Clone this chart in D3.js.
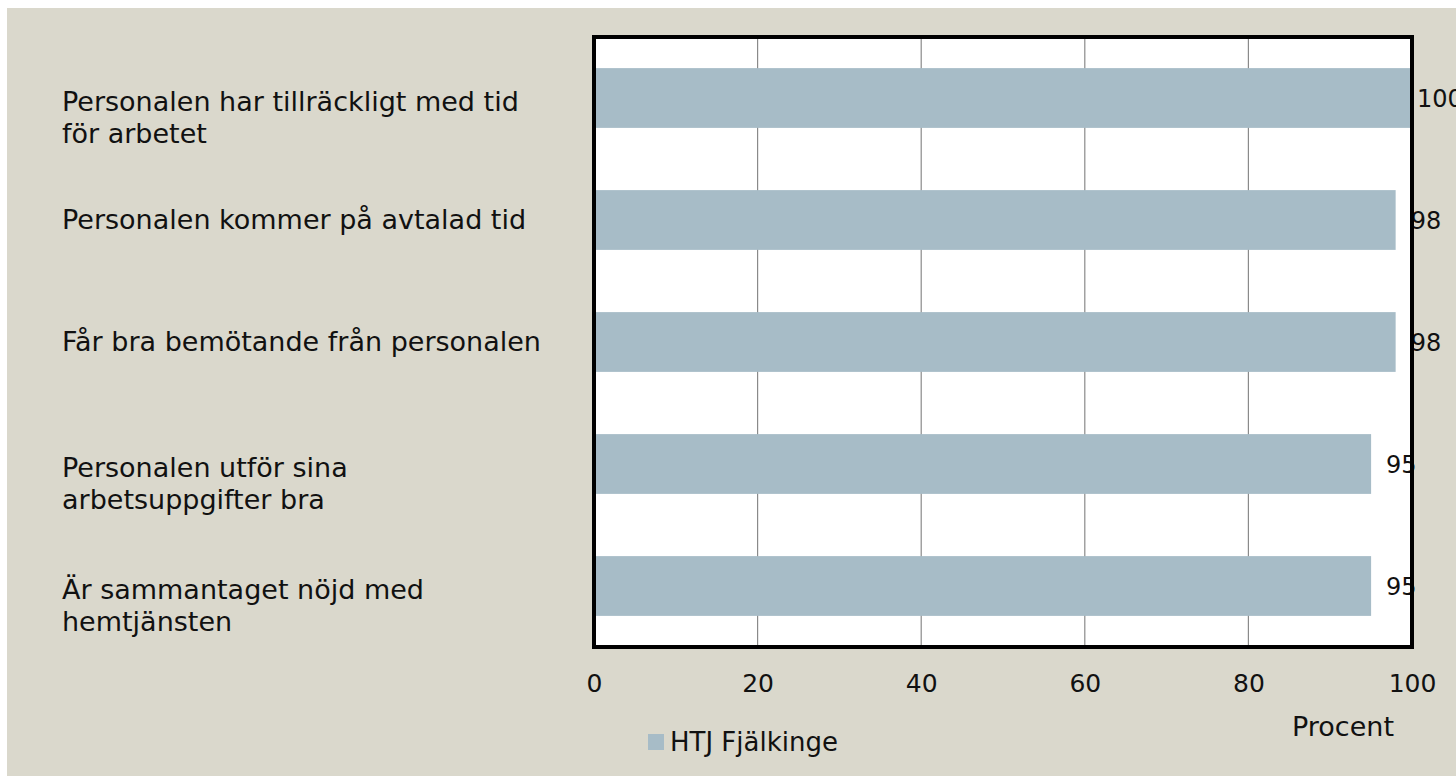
<!DOCTYPE html>
<html lang="sv">
<head>
    <meta charset="utf-8">
    <title>HTJ Fjälkinge</title>
    <script type="text/javascript" src="https://d3js.org/d3.v7.min.js"></script>
    <style>
        body { margin: 0; background: #ffffff; }
        svg { display: block; font-family: "DejaVu Sans", sans-serif; }
        .x.axis .domain { display: none; }
    </style>
</head>
<body>
    <div id="viz"></div>

    <script type="text/javascript">
        // data, top to bottom as in the chart
        const categories = [
            "Personalen har tillräckligt med tid\nför arbetet",
            "Personalen kommer på avtalad tid",
            "Får bra bemötande från personalen",
            "Personalen utför sina\narbetsuppgifter bra",
            "Är sammantaget nöjd med\nhemtjänsten"
        ];
        const values = [100, 98, 98, 95, 95];
        const tickValues = [0, 20, 40, 60, 80, 100];
        const seriesName = "HTJ Fjälkinge";
        const axisTitle = "Procent";

        const width = 1456;
        const height = 778;
        const plot = {left: 594, right: 1412, top: 37, bottom: 647};
        const barColor = "#a7bcc7";
        const bgColor = "#dad8cc";

        const svg = d3.select("#viz")
            .append("svg")
            .attr("width", width)
            .attr("height", height);

        // beige chart area
        svg.append("rect")
            .attr("x", 7).attr("y", 8)
            .attr("width", width - 7).attr("height", height - 10)
            .attr("fill", bgColor);

        const xScale = d3.scaleLinear()
            .domain([0, 100])
            .range([plot.left, plot.right]);

        const yScale = d3.scaleBand()
            .domain(categories)
            .range([plot.top, plot.bottom])
            .paddingInner(0.51)
            .paddingOuter(0.255);

        // white plot area
        svg.append("rect")
            .attr("x", plot.left).attr("y", plot.top)
            .attr("width", plot.right - plot.left)
            .attr("height", plot.bottom - plot.top)
            .attr("fill", "#ffffff");

        // vertical gridlines
        svg.append("g")
            .selectAll("line")
            .data(tickValues.slice(1, -1))
            .enter()
            .append("line")
                .attr("x1", d => xScale(d)).attr("x2", d => xScale(d))
                .attr("y1", plot.top).attr("y2", plot.bottom)
                .attr("stroke", "#8a8a8a")
                .attr("stroke-width", 1.2);

        // bars
        svg.append("g")
            .attr("class", "rect-bars")
            .selectAll("rect")
            .data(values)
            .enter()
            .append("rect")
                .attr("x", xScale(0))
                .attr("y", (d, i) => yScale(categories[i]))
                .attr("width", d => xScale(d) - xScale(0))
                .attr("height", yScale.bandwidth())
                .attr("fill", barColor);

        // value labels (behind the frame, like the original)
        svg.append("g")
            .selectAll("text")
            .data(values)
            .enter()
            .append("text")
                .attr("x", d => Math.min(xScale(d) + 15, xScale(100) + 5))
                .attr("y", (d, i) => yScale(categories[i]) + yScale.bandwidth() / 2 + 9)
                .attr("font-size", 24)
                .attr("fill", "#111")
                .text(d => d);

        // black frame
        svg.append("rect")
            .attr("x", plot.left).attr("y", plot.top)
            .attr("width", plot.right - plot.left)
            .attr("height", plot.bottom - plot.top)
            .attr("fill", "none")
            .attr("stroke", "#000")
            .attr("stroke-width", 4);

        // x axis
        const xAxis = d3.axisBottom(xScale)
            .tickValues(tickValues)
            .tickSize(0)
            .tickPadding(27);
        svg.append("g")
            .attr("class", "x axis")
            .attr("transform", `translate(0,${plot.bottom})`)
            .call(xAxis)
            .attr("font-family", "DejaVu Sans, sans-serif")
            .attr("font-size", 25)
            .selectAll("text")
                .attr("fill", "#111");

        // category labels, left aligned
        const labels = svg.append("g")
            .selectAll("text")
            .data(categories)
            .enter()
            .append("text")
                .attr("x", 62)
                .attr("y", d => yScale(d) + yScale.bandwidth() / 2)
                .attr("font-size", 27)
                .attr("fill", "#111");
        labels.each(function(d) {
            const lines = d.split("\n");
            d3.select(this).selectAll("tspan")
                .data(lines)
                .enter()
                .append("tspan")
                    .attr("x", 62)
                    .attr("dy", (l, i) => i === 0 ? (lines.length > 1 ? 13 : 9) : 32)
                    .text(l => l);
        });

        // axis title
        svg.append("text")
            .attr("x", 1292)
            .attr("y", 736)
            .attr("font-size", 27)
            .attr("fill", "#111")
            .text(axisTitle);

        // legend
        svg.append("rect")
            .attr("x", 648).attr("y", 734)
            .attr("width", 16).attr("height", 16)
            .attr("fill", barColor);
        svg.append("text")
            .attr("x", 670)
            .attr("y", 751)
            .attr("font-size", 26)
            .attr("fill", "#111")
            .text(seriesName);
    </script>
</body>
</html>
